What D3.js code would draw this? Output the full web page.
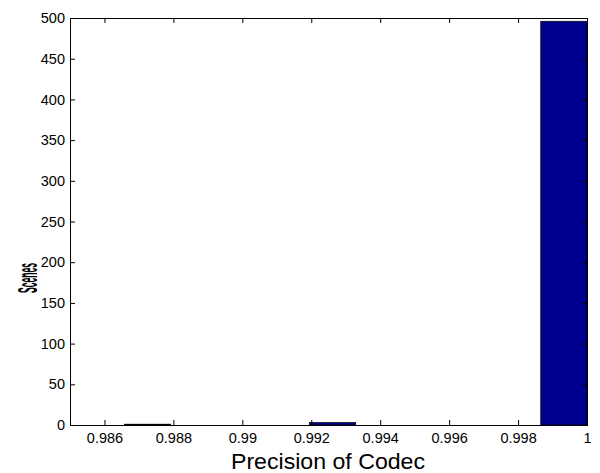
<!DOCTYPE html>
<html><head><meta charset="utf-8">
<script src="https://cdn.jsdelivr.net/npm/d3@7"></script>
<style>body{margin:0;background:#fff}svg{display:block}text{font-family:"Liberation Sans",Arial,sans-serif}</style>
</head><body><div id="c"></div>
<script>
const binStart = 0.98658;
const binWidth = 0.001342;
const binCounts = [1, 0, 0, 0, 3, 0, 0, 0, 0, 496];
const xTicks = [0.986, 0.988, 0.99, 0.992, 0.994, 0.996, 0.998, 1];
const yTicks = [0, 50, 100, 150, 200, 250, 300, 350, 400, 450, 500];
const xLabel = "Precision of Codec";
const yLabel = "Scenes";

const W = 600, H = 473;
const m = {l: 70, r: 13, t: 18, b: 48};
const svg = d3.select("#c").append("svg").attr("width", W).attr("height", H);
const x = d3.scaleLinear().domain([0.985, 1.0]).range([m.l, W - m.r]);
const y = d3.scaleLinear().domain([0, 500]).range([H - m.b, m.t]);

const bins = binCounts.map((c, i) => ({x0: binStart + i * binWidth, x1: binStart + (i + 1) * binWidth, c}));
svg.append("g").selectAll("rect").data(bins.filter(d => d.c > 0)).join("rect")
  .attr("x", d => x(d.x0)).attr("width", d => x(d.x1) - x(d.x0))
  .attr("y", d => y(d.c)).attr("height", d => y(0) - y(d.c))
  .attr("fill", "#00008f").attr("stroke", "#000").attr("stroke-width", 0.7);

const fmt = d => d3.format("")(+d.toFixed(3));
const xb = svg.append("g").attr("transform", `translate(0,${H - m.b})`)
  .call(d3.axisBottom(x).tickValues(xTicks).tickSize(-5).tickPadding(8).tickFormat(fmt));
const xt = svg.append("g").attr("transform", `translate(0,${m.t})`)
  .call(d3.axisTop(x).tickValues(xTicks).tickSize(-5).tickFormat(""));
const yl = svg.append("g").attr("transform", `translate(${m.l},0)`)
  .call(d3.axisLeft(y).tickValues(yTicks).tickSize(-5).tickPadding(5));
const yr = svg.append("g").attr("transform", `translate(${W - m.r},0)`)
  .call(d3.axisRight(y).tickValues(yTicks).tickSize(-5).tickFormat(""));
[xb, xt, yl, yr].forEach(g => {
  g.select(".domain").attr("stroke", "#000").attr("stroke-width", 1);
  g.selectAll(".tick line").attr("stroke", "#000");
  g.selectAll(".tick text").attr("font-size", 14.5).attr("fill", "#000")
    .attr("font-family", "'Liberation Sans',Arial,sans-serif");
});

svg.append("text").attr("x", 328).attr("y", 469)
  .attr("text-anchor", "middle").attr("font-size", 21.5)
  .attr("textLength", 194).attr("lengthAdjust", "spacingAndGlyphs").text(xLabel);
svg.append("text").attr("transform", "translate(37,278) rotate(-90)")
  .attr("text-anchor", "middle").attr("font-size", 27).attr("font-weight", "bold")
  .attr("textLength", 30).attr("lengthAdjust", "spacingAndGlyphs").text(yLabel);
</script></body></html>
